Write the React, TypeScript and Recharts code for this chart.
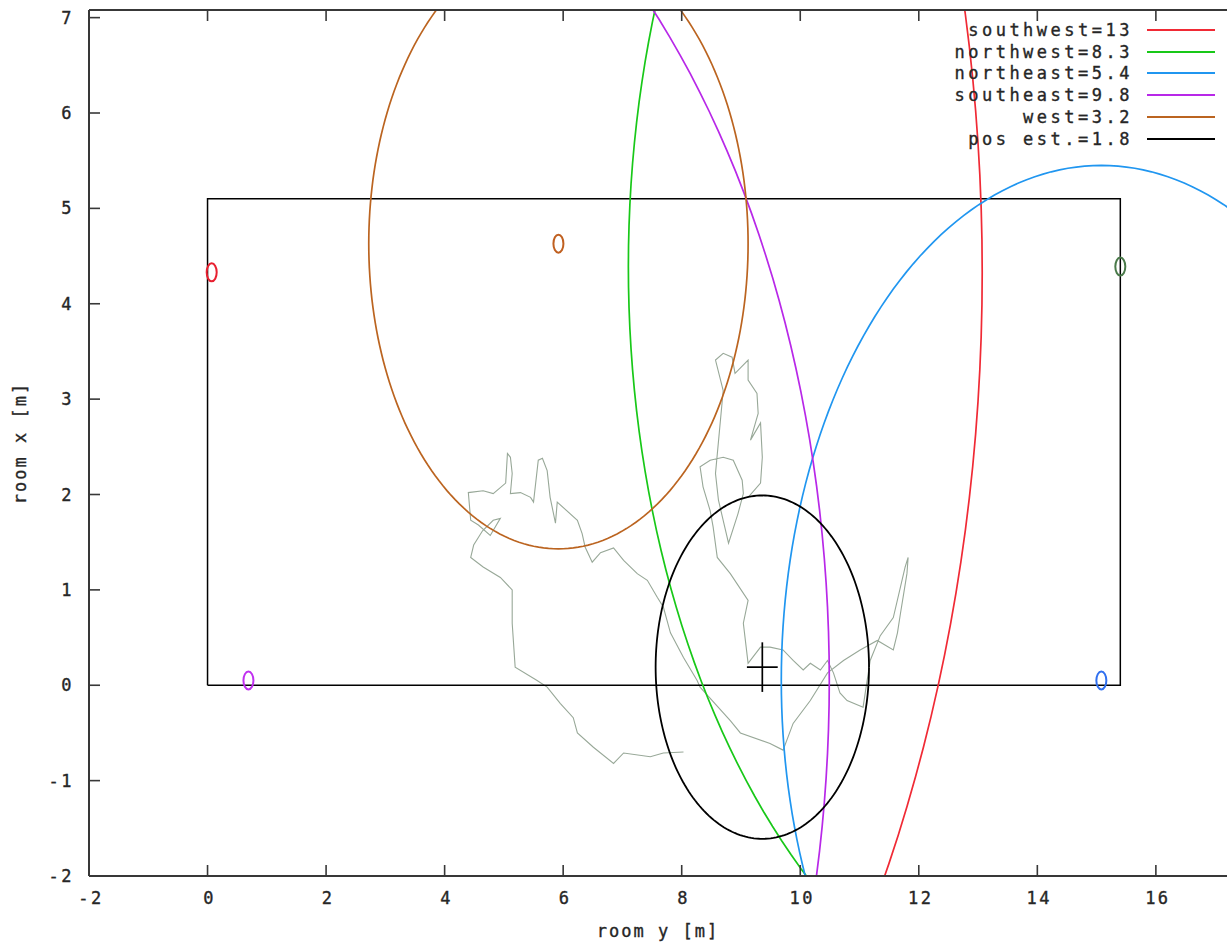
import React from "react";
import { ComposedChart, Line, XAxis, YAxis, Legend } from "recharts";

// anchors: name, position (room y, room x), measured range, colour
const anchorNames = ["southwest", "northwest", "northeast", "southeast", "west"];
const anchorY = [0.07, 15.4, 15.08, 0.69, 5.92];
const anchorX = [4.33, 4.39, 0.05, 0.05, 4.63];
const anchorRange = [13, 8.3, 5.4, 9.8, 3.2];
const circleColors = ["#f02a35", "#18c818", "#2096f0", "#b828e8", "#bb6420"];
const markerColors = ["#e82030", "#4a7a4a", "#3070f0", "#c030f0", "#c06020"];

// position estimate
const estY = 9.36;
const estX = 0.19;
const estRange = 1.8;
const estCross = 0.26;

// room outline
const roomY = [0, 0, 15.4, 15.4, 0];
const roomX = [0, 5.1, 5.1, 0, 0];

// tracked walk (room y, room x)
const trackY = [
  8.03, 7.69, 7.47, 7.02, 6.85, 6.51, 6.24, 6.17, 5.95, 5.73, 5.56, 5.19, 5.14, 5.14, 4.94, 4.65, 4.44,
  4.49, 4.64, 4.82, 4.94, 4.77, 4.57, 4.44, 4.4, 4.65, 4.82, 5.03, 5.06, 5.11, 5.14, 5.11, 5.28, 5.45,
  5.5, 5.58, 5.65, 5.73, 5.78, 5.87, 5.9, 6.24, 6.32, 6.37, 6.49, 6.63, 6.85, 7.02, 7.25, 7.42, 7.59,
  7.69, 7.81, 8.03, 8.26, 8.31, 8.82, 8.99, 9.49, 9.71, 9.88, 10.17, 10.46, 10.73, 11.01, 11.3, 11.57,
  11.64, 11.69, 11.8, 11.82, 11.77, 11.57, 11.35, 11.18, 11.06, 10.79, 10.67, 10.56, 10.46, 10.34,
  10.17, 10.05, 9.88, 9.71, 9.49, 9.33, 9.12, 9.04, 9.12, 8.82, 8.6, 8.53, 8.48, 8.36, 8.31, 8.48, 8.7,
  8.87, 9.02, 9.04, 8.95, 8.79, 8.62, 8.57, 8.7, 8.57, 8.7, 8.85, 8.9, 9.12, 9.12, 9.27, 9.29, 9.16,
  9.33, 9.36, 9.33, 9.12,
];
const trackX = [
  -0.7, -0.71, -0.75, -0.71, -0.82, -0.65, -0.5, -0.34, -0.19, -0.02, 0.05, 0.19, 0.65, 1.0, 1.13, 1.24,
  1.34, 1.47, 1.62, 1.73, 1.75, 1.57, 1.68, 1.73, 2.02, 2.04, 2.01, 2.12, 2.43, 2.39, 2.22, 2.01, 2.02,
  1.97, 1.92, 2.36, 2.38, 2.25, 1.97, 1.7, 1.92, 1.73, 1.59, 1.45, 1.29, 1.39, 1.44, 1.31, 1.17, 1.1,
  0.92, 0.82, 0.55, 0.29, 0.05, -0.02, -0.37, -0.5, -0.61, -0.68, -0.4, -0.16, 0.13, 0.26, 0.37, 0.47,
  0.37, 0.55, 0.75, 1.17, 1.34, 1.24, 0.71, 0.52, 0.26, -0.23, -0.16, -0.08, 0.13, 0.26, 0.16, 0.23,
  0.16, 0.26, 0.37, 0.4, 0.4, 0.23, 0.65, 0.89, 1.17, 1.34, 1.66, 1.83, 2.08, 2.29, 2.36, 2.39, 2.36,
  2.15, 2.01, 1.8, 1.49, 1.94, 2.22, 3.09, 3.41, 3.48, 3.44, 3.27, 3.41, 3.2, 3.06, 2.85, 2.57, 2.75,
  2.39, 2.12, 1.97,
];

const xTicks = [-2, 0, 2, 4, 6, 8, 10, 12, 14, 16];
const yTicks = [-2, -1, 0, 1, 2, 3, 4, 5, 6, 7];

const FONT = "'DejaVu Sans Mono', monospace";
const AXIS = "#383838";
const TEXT = "#262626";

const circle = (cy: number, cx: number, r: number) => {
  const pts = [];
  for (let i = 0; i <= 240; i++) {
    const a = (i / 240) * Math.PI * 2;
    pts.push({ x: cy + r * Math.cos(a), y: cx + r * Math.sin(a) });
  }
  return pts;
};

const zip = (xs: number[], ys: number[]) => xs.map((x, i) => ({ x, y: ys[i] }));

const textStyle = {
  fontFamily: FONT,
  fontSize: 17,
  fill: TEXT,
  stroke: TEXT,
  strokeWidth: 0.35,
};

const BottomTick = (props: any) => {
  const { x, y, payload } = props;
  return (
    <g>
      <line x1={x} y1={y} x2={x} y2={y - 11} stroke={AXIS} strokeWidth={1.6} />
      <text x={x + 2} y={y + 28} textAnchor="middle" letterSpacing={2.5} {...textStyle}>
        {payload.value}
      </text>
    </g>
  );
};

const TopTick = (props: any) => {
  const { x, y } = props;
  return <line x1={x} y1={y} x2={x} y2={y + 11} stroke={AXIS} strokeWidth={1.6} />;
};

const LeftTick = (props: any) => {
  const { x, y, payload } = props;
  return (
    <g>
      <line x1={x} y1={y} x2={x + 11} y2={y} stroke={AXIS} strokeWidth={1.6} />
      <text x={x - 15} y={y + 6} textAnchor="end" letterSpacing={2.5} {...textStyle}>
        {payload.value}
      </text>
    </g>
  );
};

const AnchorMarker = (props: any) => {
  const { cx, cy, color } = props;
  if (cx == null || cy == null) return null;
  return <ellipse cx={cx} cy={cy} rx={5} ry={9} fill="none" stroke={color} strokeWidth={2} />;
};

const legendRows = [
  ...anchorNames.map((n, i) => ({ label: `${n}=${anchorRange[i]}`, color: circleColors[i] })),
  { label: `pos est.=${estRange}`, color: "#000" },
];

const LegendBox = () => (
  <div style={{ fontFamily: FONT, fontSize: 17, color: TEXT, WebkitTextStroke: "0.35px #262626" }}>
    {legendRows.map((r) => (
      <div key={r.label} style={{ display: "flex", alignItems: "center", justifyContent: "flex-end", height: 21.8 }}>
        <span style={{ letterSpacing: 3.5, marginRight: 14 }}>{r.label}</span>
        <svg width={68} height={6}>
          <line x1={0} y1={3} x2={68} y2={3} stroke={r.color} strokeWidth={2} />
        </svg>
      </div>
    ))}
  </div>
);

export default function App() {
  return (
    <div style={{ position: "absolute", left: 0, top: 0, width: 1227, height: 944, background: "#fff" }}>
      <ComposedChart width={1227} height={944} margin={{ top: 0, right: 0, bottom: 0, left: 0 }}>
        <XAxis
          xAxisId={0}
          type="number"
          dataKey="x"
          domain={[-2, 17.2]}
          allowDataOverflow
          ticks={xTicks}
          interval={0}
          height={68}
          tickSize={0}
          tickMargin={0}
          tick={<BottomTick />}
          axisLine={{ stroke: AXIS, strokeWidth: 2 }}
          label={{
            content: (p: any) => (
              <text
                x={p.viewBox.x + p.viewBox.width / 2}
                y={p.viewBox.y + 61}
                textAnchor="middle"
                letterSpacing={2}
                {...textStyle}
              >
                room y [m]
              </text>
            ),
          }}
        />
        <XAxis
          xAxisId="top"
          orientation="top"
          type="number"
          dataKey="x"
          domain={[-2, 17.2]}
          allowDataOverflow
          ticks={xTicks}
          interval={0}
          height={10}
          tickSize={0}
          tickMargin={0}
          tick={<TopTick />}
          axisLine={{ stroke: AXIS, strokeWidth: 2 }}
        />
        <YAxis
          type="number"
          dataKey="y"
          domain={[-2, 7.08]}
          allowDataOverflow
          ticks={yTicks}
          interval={0}
          width={89}
          tickSize={0}
          tickMargin={0}
          tick={<LeftTick />}
          axisLine={{ stroke: AXIS, strokeWidth: 2 }}
          label={{
            content: (p: any) => {
              const cy = p.viewBox.y + p.viewBox.height / 2;
              return (
                <text
                  x={20}
                  y={cy}
                  transform={`rotate(-90, 20, ${cy})`}
                  textAnchor="middle"
                  dominantBaseline="central"
                  letterSpacing={2}
                  {...textStyle}
                >
                  room x [m]
                </text>
              );
            },
          }}
        />
        <Legend
          layout="vertical"
          align="center"
          verticalAlign="middle"
          content={() => <LegendBox />}
          wrapperStyle={{ position: "absolute", top: 19, right: 12, left: "auto", bottom: "auto", width: "auto" }}
        />

        <Line
          data={zip(trackY, trackX)}
          dataKey="y"
          stroke="#98a898"
          strokeWidth={1.1}
          dot={false}
          isAnimationActive={false}
          legendType="none"
        />
        <Line
          data={zip(roomY, roomX)}
          dataKey="y"
          stroke="#000"
          strokeWidth={1.5}
          dot={false}
          isAnimationActive={false}
          legendType="none"
        />
        {anchorNames.map((n, i) => (
          <Line
            key={n}
            name={n}
            data={circle(anchorY[i], anchorX[i], anchorRange[i])}
            dataKey="y"
            stroke={circleColors[i]}
            strokeWidth={1.7}
            dot={false}
            isAnimationActive={false}
          />
        ))}
        <Line
          name="pos est."
          data={circle(estY, estX, estRange)}
          dataKey="y"
          stroke="#000"
          strokeWidth={1.8}
          dot={false}
          isAnimationActive={false}
        />
        <Line
          data={[{ x: estY - estCross, y: estX }, { x: estY + estCross, y: estX }]}
          dataKey="y"
          stroke="#000"
          strokeWidth={1.7}
          dot={false}
          isAnimationActive={false}
          legendType="none"
        />
        <Line
          data={[{ x: estY, y: estX - estCross }, { x: estY, y: estX + estCross }]}
          dataKey="y"
          stroke="#000"
          strokeWidth={1.7}
          dot={false}
          isAnimationActive={false}
          legendType="none"
        />
        {anchorNames.map((n, i) => (
          <Line
            key={`m-${n}`}
            data={[{ x: anchorY[i], y: anchorX[i] }]}
            dataKey="y"
            stroke="none"
            dot={<AnchorMarker color={markerColors[i]} />}
            isAnimationActive={false}
            legendType="none"
          />
        ))}
      </ComposedChart>
    </div>
  );
}
